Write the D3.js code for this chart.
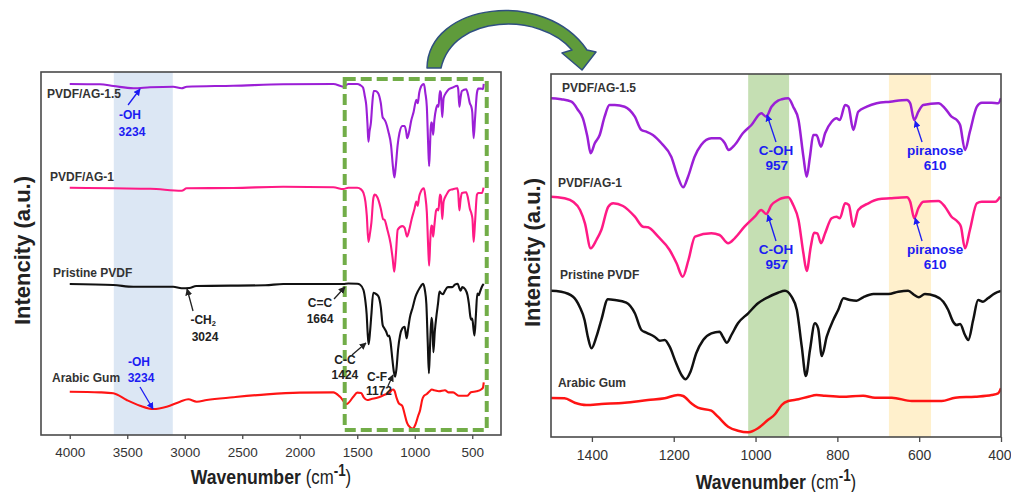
<!DOCTYPE html>
<html><head><meta charset="utf-8">
<script src="https://cdn.jsdelivr.net/npm/d3@7"></script>
<style>
body{margin:0;background:#fff;}
svg{display:block;font-family:Arial,"Liberation Sans",Helvetica,sans-serif;}
</style>
</head><body>
<svg id="chart" width="1011" height="492"></svg>
<script>
// ---------------- DATA ----------------
const seriesNames  = ["PVDF/AG-1.5", "PVDF/AG-1", "Pristine PVDF", "Arabic Gum"];
const seriesColors = ["#9b1fd6", "#ff1a85", "#111111", "#ff1414"];

// [wavenumber (cm-1), intensity (a.u.)]
const pvdfAg15 = [
 [4000,338.7],[3737,338.4],[3621,336.8],[3447,334.6],[3302,335.5],[3100,336.1],[3027,334.6],[2983,336.1],
 [2578,337.0],[2143,338.4],[1708,338.7],[1621,336.1],[1578,338.7],
 [1500,338.7],[1475,337.7],[1450,335.3],[1434,327],[1422,318.7],[1411,300.3],[1403,283.7],[1393,293.7],
 [1381,302],[1369,320.3],[1357,332],[1344,332],[1320,330.3],[1295,320.3],[1279,307],[1267,305.3],
 [1251,302],[1230,293.7],[1206,280.3],[1190,260.3],[1177,249.7],[1165,260.3],[1149,280.3],[1133,292],
 [1108,298.7],[1088,298.7],[1075,293.7],[1066,287],[1051,292],[1031,303.7],[1010,312],[986,323.7],
 [974,320.3],[961,330.3],[945,336.3],[936,337.7],[920,338.7],[908,330.3],[895,317],[883,280.3],
 [875,260.3],[867,280.3],[859,302],[851,302],[840,290.3],[830,303.7],[814,315.3],[802,318.7],[794,317],
 [781,332],[773,330.3],[761,307],[749,325.3],[728,330.3],[704,333.7],[671,335.3],[630,337],[622,333.7],
 [612,317],[602,325.3],[590,332],[553,333.7],[537,328.7],[521,320.3],[508,317],[500,312],[488,287],
 [476,305.3],[459,330.3],[447,334.3],[423,334.3],[407,333.7],[400,338.7]
];
const pvdfAg1 = [
 [4000,240.3],[3621,239.7],[3300,239.3],[3027,237.4],[2983,239.7],[2578,240],[2143,241.2],[1708,240.7],
 [1621,239],[1578,240.3],
 [1500,240.3],[1467,238.7],[1446,235.3],[1429,227],[1417,213.7],[1403,188.7],[1389,197],[1377,207],
 [1360,230.3],[1348,233.7],[1324,231],[1295,220.3],[1275,210.3],[1263,209.7],[1238,200.3],[1210,187],
 [1193,173.7],[1178,160.3],[1164,177],[1148,200.3],[1108,203.7],[1088,202],[1067,193.7],[1051,198.7],
 [1027,210.3],[1002,220.3],[986,227],[974,223],[961,232],[945,237],[936,238.7],[920,239.7],[908,232],
 [895,217],[883,183.7],[875,166],[865,190.3],[857,204.3],[849,203.7],[840,193.7],[830,203.7],[814,218.7],
 [802,220.3],[794,218.7],[781,233.7],[772,232],[761,210.3],[749,227],[724,233.7],[700,237.7],[671,238.7],
 [630,239.7],[622,235.3],[612,218.7],[602,228.7],[590,235.3],[553,236],[537,230.3],[521,220.3],[506,215.3],
 [498,210.3],[488,188.7],[476,207],[459,233.7],[447,235.3],[414,235.3],[402,240.3]
];
const pristinePvdf = [
 [4000,146],[3621,145],[3447,143.4],[3100,143.4],[3027,141.9],[2960,142.2],[2900,144.1],[2300,144.8],
 [2143,146],[1621,146],[1578,146.5],
 [1500,146.3],[1475,145.3],[1446,140.3],[1430,130.3],[1418,117],[1410,100.3],[1401,88.7],[1389,100.3],
 [1377,117],[1361,137.7],[1344,137],[1316,134.3],[1295,123.7],[1279,107],[1267,104.3],[1247,100.3],
 [1234,96.3],[1222,97],[1210,90.3],[1194,73.7],[1181,62],[1171,57.7],[1159,65.3],[1145,83.7],[1128,97],
 [1108,103.7],[1088,105.3],[1080,100.3],[1070,94.3],[1059,102],[1043,113.7],[1018,123.7],[994,133.7],
 [970,139.7],[945,144.3],[928,146.3],[912,140.3],[899,127],[887,90.3],[877,61],[867,87],[855,113.7],
 [847,108.7],[838,81],[826,100.3],[810,117],[798,127],[785,138.7],[769,137],[753,136.3],[737,139.7],
 [712,143],[675,143],[651,145.3],[627,146.3],[612,142],[601,139.7],[586,143],[561,141],[541,135.3],
 [529,127],[517,115.3],[508,112],[500,113],[488,102],[480,97],[468,117],[456,137],[444,135.3],[432,138.7],
 [415,143.7],[400,146]
];
const arabicGum = [
 [4000,39.9],[3737,39.3],[3621,38.4],[3505,32.0],[3389,26.6],[3273,23.4],[3157,25.6],[3041,30.4],
 [2969,32.7],[2896,30.4],[2809,32.0],[2578,34.6],[2287,37.4],[2000,39.0],[1708,39.3],[1650,35.1],
 [1592,28.2],[1534,35.1],
 [1500,39],[1467,38.7],[1442,34.3],[1414,32],[1377,33],[1320,34.3],[1263,37],[1222,38.7],[1190,42],
 [1177,41],[1157,33.7],[1141,29.3],[1108,26.3],[1092,20.3],[1067,10.3],[1043,6.3],[1018,4.7],[994,8.7],
 [970,17],[952,23],[945,27],[936,32],[920,36],[895,37.7],[871,40.3],[851,42],[830,41.3],[789,40.3],
 [737,41.3],[708,39.3],[667,39.3],[618,36],[586,36],[545,36],[512,39.3],[463,40.3],[423,42],[407,43.7],
 [400,48.7]
];
const seriesData = [pvdfAg15, pvdfAg1, pristinePvdf, arabicGum];

// stacking of the overview panel relative to the zoomed panel
const leftScaleFactor = 1.05;
const leftOffsets = [-4.6, -5.0, -2.3, 1.4];

const leftTicks  = [4000, 3500, 3000, 2500, 2000, 1500, 1000, 500];
const rightTicks = [1400, 1200, 1000, 800, 600, 400];

const leftBands  = [{from:3617, to:3104, color:"#dce7f4"}];
const rightBands = [{from:1018, to:918, color:"#c5dfb3"}, {from:674, to:571, color:"#fff0cc"}];
const zoomBox = {from:1609, to:374, top:356, bottom:5};

// ---------------- SETUP ----------------
const svg = d3.select("#chart");
const defs = svg.append("defs");
function marker(id, color){
  defs.append("marker").attr("id", id).attr("viewBox","0 0 10 10").attr("refX",9).attr("refY",5)
    .attr("markerWidth",7).attr("markerHeight",7).attr("markerUnits","userSpaceOnUse").attr("orient","auto")
    .append("path").attr("d","M0,0 L10,5 L0,10 z").attr("fill", color);
}
const BLUE = "#1c1cf2";
marker("ahBlue", BLUE);
marker("ahBlack", "#222");

const panels = [
  { x: d3.scaleLinear().domain([4250,250]).range([41,501]),
    y: d3.scaleLinear().domain([0,363]).range([435,72]),
    ticks: leftTicks, tickSize: 4, bands: leftBands,
    val: (d,i) => d[1]*leftScaleFactor + leftOffsets[i], id:"L" },
  { x: d3.scaleLinear().domain([1500,400]).range([551,1001]),
    y: d3.scaleLinear().domain([0,363]).range([437,74]),
    ticks: rightTicks, tickSize: 5, bands: rightBands,
    val: (d,i) => d[1], id:"R" }
];

panels.forEach(p => {
  const [x0,x1] = p.x.range(); const [yb,yt] = p.y.range();
  defs.append("clipPath").attr("id","clip"+p.id).append("rect")
    .attr("x",x0).attr("y",yt).attr("width",x1-x0).attr("height",yb-yt);
  const g = svg.append("g");
  // bands
  g.selectAll("rect.band").data(p.bands).join("rect")
    .attr("x", d=>p.x(d.from)).attr("width", d=>p.x(d.to)-p.x(d.from))
    .attr("y", yt).attr("height", yb-yt).attr("fill", d=>d.color);
  // lines
  const gl = g.append("g").attr("clip-path","url(#clip"+p.id+")");
  seriesData.forEach((data,i) => {
    const line = d3.line().x(d=>p.x(d[0])).y(d=>p.y(p.val(d,i))).curve(d3.curveMonotoneX);
    gl.append("path").attr("d", line(data)).attr("fill","none")
      .attr("stroke", seriesColors[i]).attr("stroke-width", p.id==="L"?2.1:2.5)
      .attr("stroke-linejoin","round");
  });
  // frame
  g.append("rect").attr("x",x0).attr("y",yt).attr("width",x1-x0).attr("height",yb-yt)
    .attr("fill","none").attr("stroke","#4a4a4a").attr("stroke-width",1.6);
  // axis
  const ax = g.append("g").attr("transform",`translate(0,${yb})`)
    .call(d3.axisBottom(p.x).tickValues(p.ticks).tickSize(p.tickSize).tickPadding(8).tickFormat(d3.format("d")));
  ax.select(".domain").remove();
  ax.selectAll(".tick line").attr("stroke","#4a4a4a").attr("stroke-width",1.3);
  ax.selectAll(".tick text").attr("fill","#333").attr("font-size", p.id==="L"?13.5:14)
    .attr("font-family","Arial, 'Liberation Sans', sans-serif");
  if (p.id==="R") ax.selectAll(".tick text").filter(d=>d===400).attr("text-anchor","end").attr("dx",10);
  // y label
  const cx = p.id==="L" ? 22 : 532;
  svg.append("text").attr("transform",`translate(${cx},${(yt+yb)/2 - 3}) rotate(-90)`)
    .attr("text-anchor","middle").attr("dy","0.35em").attr("font-size",22).attr("font-weight","bold")
    .attr("fill","#222").text("Intencity (a.u.)");
  // x label
  const xl = svg.append("g").attr("transform",`translate(${(x0+x1)/2},${p.id==="L"?484:489}) scale(0.84,1)`)
    .append("text").attr("text-anchor","middle").attr("fill","#222");
  xl.append("tspan").attr("font-size",21).attr("font-weight","bold").text("Wavenumber ");
  xl.append("tspan").attr("font-size",20).text("(cm");
  xl.append("tspan").attr("font-size",16).attr("font-weight","bold").attr("dy",-8).text("-1");
  xl.append("tspan").attr("font-size",20).attr("dy",8).text(")");
});

// dashed zoom box on the overview
const PL = panels[0], PR = panels[1];
svg.append("rect").attr("x",PL.x(zoomBox.from)).attr("y",PL.y(zoomBox.top))
  .attr("width",PL.x(zoomBox.to)-PL.x(zoomBox.from)).attr("height",PL.y(zoomBox.bottom)-PL.y(zoomBox.top))
  .attr("fill","none").attr("stroke","#72ad48").attr("stroke-width",4).attr("stroke-dasharray","11,5");

// series labels [panel, v, y]
const seriesLabelPos = [
  [[4198,341],[1473,349]],
  [[4172,258],[1483,254]],
  [[4146,162],[1478,162]],
  [[4154,57],[1483,54]]
];
seriesNames.forEach((n,i) => {
  [PL,PR].forEach((p,j) => {
    const pos = seriesLabelPos[i][j];
    svg.append("text").attr("x",p.x(pos[0])).attr("y",(j===0?435:437)-pos[1]).attr("dy","0.35em")
      .attr("font-size",12).attr("font-weight","bold").attr("fill","#333").text(n);
  });
});

// annotations: labels [text, v, y(px units above axis)], arrow [v1,y1,v2,y2]
const leftNotes = [
  {color:BLUE, size:12, labels:[["-OH",3476,320],["3234",3459,303]], arrow:[3493,330,3389,346]},
  {color:"#222", size:12, labels:[["-CH",2840,115,"2"],["3024",2824,98]], arrow:[2928,124,2980,146]},
  {color:"#222", size:12, labels:[["C=C",1824,132],["1664",1824,116]], arrow:[1702,136,1607,148]},
  {color:"#222", size:12, labels:[["C-C",1607,75],["1424",1607,60]], arrow:[1546,80,1424,92]},
  {color:"#222", size:12, labels:[["C-F",1328,58],["1172",1311,44]], arrow:[1233,49,1189,60]},
  {color:BLUE, size:12, labels:[["-OH",3398,73],["3234",3380,57]], arrow:[3389,48,3276,26]}
];
const rightNotes = [
  {color:BLUE, size:13.5, labels:[["C-OH",950,287],["957",948,272]], arrow:[950,295,972,322]},
  {color:BLUE, size:13.5, labels:[["C-OH",950,188],["957",948,173]], arrow:[950,196,970,222]},
  {color:BLUE, size:13.5, labels:[["piranose",561,287],["610",561,272]], arrow:[593,295,610,316]},
  {color:BLUE, size:13.5, labels:[["piranose",561,188],["610",561,173]], arrow:[593,196,610,219]}
];
function drawNotes(notes, p){
  const base = p.y(0);
  notes.forEach(n => {
    n.labels.forEach(l => {
      const t = svg.append("text").attr("x",p.x(l[1])).attr("y",base-l[2]).attr("dy","0.35em")
        .attr("text-anchor","middle").attr("font-size",n.size).attr("font-weight","bold").attr("fill",n.color);
      t.append("tspan").text(l[0]);
      if (l[3]) t.append("tspan").attr("font-size",7.5).attr("dy",2).text(l[3]);
    });
    const a = n.arrow;
    svg.append("line").attr("x1",p.x(a[0])).attr("y1",base-a[1]).attr("x2",p.x(a[2])).attr("y2",base-a[3])
      .attr("stroke",n.color).attr("stroke-width",1.3)
      .attr("marker-end", n.color===BLUE ? "url(#ahBlue)" : "url(#ahBlack)");
  });
}
drawNotes(leftNotes, PL);
drawNotes(rightNotes, PR);

// curved linking arrow between the panels
svg.append("path")
  .attr("d","M427,68 C428,3 545,-12 587,50 L596,52 L582,70 L562,53 L572,50 C540,12 453,14 441,68 Z")
  .attr("fill","#5f9b3b").attr("stroke","#2f4f80").attr("stroke-width",1.5).attr("stroke-linejoin","round");
</script>
</body></html>
